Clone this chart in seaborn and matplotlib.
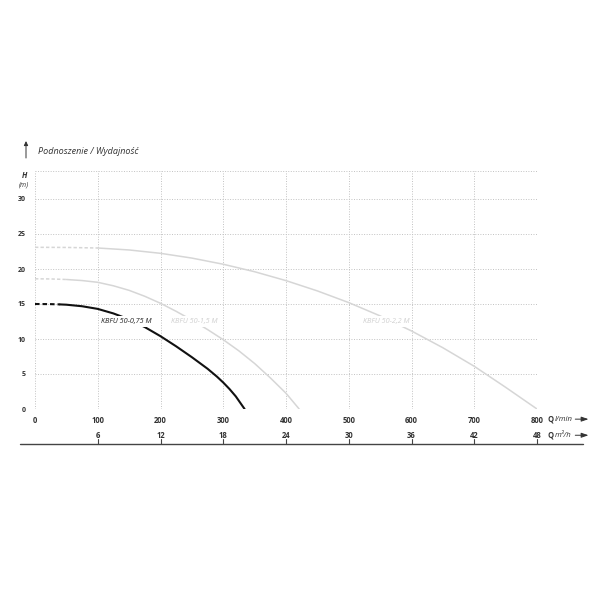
import matplotlib
matplotlib.use("Agg")
import matplotlib.pyplot as plt
import seaborn as sns
import pandas as pd
import numpy as np

sns.set_theme(style="white")
plt.rcParams['font.family'] = ['Open Sans', 'DejaVu Sans']

# ---- data ----
title = "Podnoszenie / Wydajność"
q_075 = [0, 25, 40, 50, 75, 100, 125, 150, 175, 200, 225, 250, 275, 290, 300, 310, 320, 334]
h_075 = [15.0, 14.98, 14.94, 14.9, 14.68, 14.3, 13.65, 12.8, 11.7, 10.4, 8.95, 7.4, 5.75, 4.62, 3.78, 2.85, 1.8, 0.0]
q_15 = [0, 25, 50, 75, 100, 125, 150, 175, 200, 225, 250, 275, 300, 325, 350, 375, 400, 421]
h_15 = [18.6, 18.58, 18.5, 18.35, 18.1, 17.6, 16.95, 16.1, 15.1, 13.95, 12.7, 11.35, 9.9, 8.3, 6.5, 4.45, 2.25, 0.0]
q_22 = [0, 50, 100, 150, 200, 250, 300, 350, 400, 450, 500, 550, 600, 650, 700, 750, 800]
h_22 = [23.1, 23.08, 23.0, 22.72, 22.24, 21.56, 20.68, 19.61, 18.34, 16.87, 15.2, 13.3, 11.15, 8.75, 6.1, 3.1, 0.0]
labels = ["KBFU 50-0,75 M", "KBFU 50-1,5 M", "KBFU 50-2,2 M"]
dash_end = [2, 2, 2]  # index where the dashed start segment ends
label_pos = [(145, 12.5), (254, 12.5), (560, 12.5)]
colors = ["#111111", "#d6d6d6", "#d6d6d6"]
text_colors = ["#222222", "#cfcfcf", "#cfcfcf"]
lwidths = [1.5, 1.1, 1.1]
x_lmin = [0, 100, 200, 300, 400, 500, 600, 700, 800]
x_m3h = [6, 12, 18, 24, 30, 36, 42, 48]
y_ticks = [0, 5, 10, 15, 20, 25, 30]

fig = plt.figure(figsize=(6, 6), dpi=100)
ax = fig.add_axes([35/600, 1-409/600, (537-35)/600, (409-171)/600])
ax.set_xlim(0, 800)
ax.set_ylim(0, 34)

grid_kw = dict(color="#c2c2c2", lw=0.7, ls=(0, (1.0, 1.6)))
for gx in x_lmin:
    ax.axvline(gx, **grid_kw, zorder=0)
for gy in y_ticks + [34]:
    ax.axhline(gy, **grid_kw, zorder=0)
for s in ax.spines.values():
    s.set_visible(False)

series = [(q_075, h_075), (q_15, h_15), (q_22, h_22)]
for (q, h), k, c, lw in zip(series, dash_end, colors, lwidths):
    df = pd.DataFrame({"Q": q, "H": h})
    sns.lineplot(data=df.iloc[:k+1], x="Q", y="H", ax=ax, color=c, lw=lw,
                 linestyle=(0, (2.2, 1.4)), sort=False, zorder=2)
    sns.lineplot(data=df.iloc[k:], x="Q", y="H", ax=ax, color=c, lw=lw,
                 sort=False, zorder=2)

for lab, (lx, ly), tc in zip(labels, label_pos, text_colors):
    ax.text(lx, ly, lab, fontsize=5.2, style="italic", color=tc,
            ha="center", va="center", zorder=5,
            bbox=dict(facecolor="white", edgecolor="none", pad=1.5))

ax.set_xlabel("")
ax.set_ylabel("")
ax.set_xticks(x_lmin)
ax.set_xticklabels([str(v) for v in x_lmin], fontsize=5.5, fontweight="bold", color="#333333")
ax.set_yticks(y_ticks)
ax.set_yticklabels([str(v) for v in y_ticks], fontsize=5, fontweight="bold", color="#333333")
ax.tick_params(axis="both", length=0, pad=5)
ax.tick_params(axis="y", pad=7)

# second Q axis (m3/h)
yline = -5.0
ax.plot([-24, 873], [yline, yline], color="#444444", lw=1.0, clip_on=False)
for v in x_m3h:
    xv = v * 1000 / 60
    ax.plot([xv, xv], [yline, yline + 0.7], color="#444444", lw=0.8, clip_on=False)
    ax.text(xv, yline + 1.25, str(v), fontsize=5.5, fontweight="bold", color="#333333",
            ha="center", va="center", clip_on=False)

for yy, unit in [(-1.45, "l/min"), (-3.75, "m³/h")]:
    ax.text(817, yy, "Q", fontsize=5.5, fontweight="bold", color="#333333", ha="left", va="center", clip_on=False)
    ax.text(828, yy, unit, fontsize=5.6, style="italic", color="#333333", ha="left", va="center", clip_on=False)
    ax.annotate("", xy=(882, yy), xytext=(861, yy), xycoords="data",
                arrowprops=dict(arrowstyle="-|>,head_length=0.35,head_width=0.12", color="#333333",
                                lw=0.7, shrinkA=0, shrinkB=0),
                annotation_clip=False)

# header
fig.text(38/600, 1-151/600, title, fontsize=6.5, style="italic", color="#333333", ha="left", va="center")
fig.add_artist(matplotlib.patches.FancyArrowPatch((26/600, 1-158/600), (26/600, 1-141/600),
               transform=fig.transFigure, arrowstyle="-|>,head_length=2.5,head_width=1.2",
               color="#333333", lw=0.7, shrinkA=0, shrinkB=0))
fig.text(24/600, 1-176/600, "H", fontsize=5.5, fontweight="bold", style="italic", color="#333333", ha="center", va="center")
fig.text(24/600, 1-185/600, "(m)", fontsize=5, style="italic", color="#333333", ha="center", va="center")

fig.savefig("out.png", dpi=100, facecolor="white")
